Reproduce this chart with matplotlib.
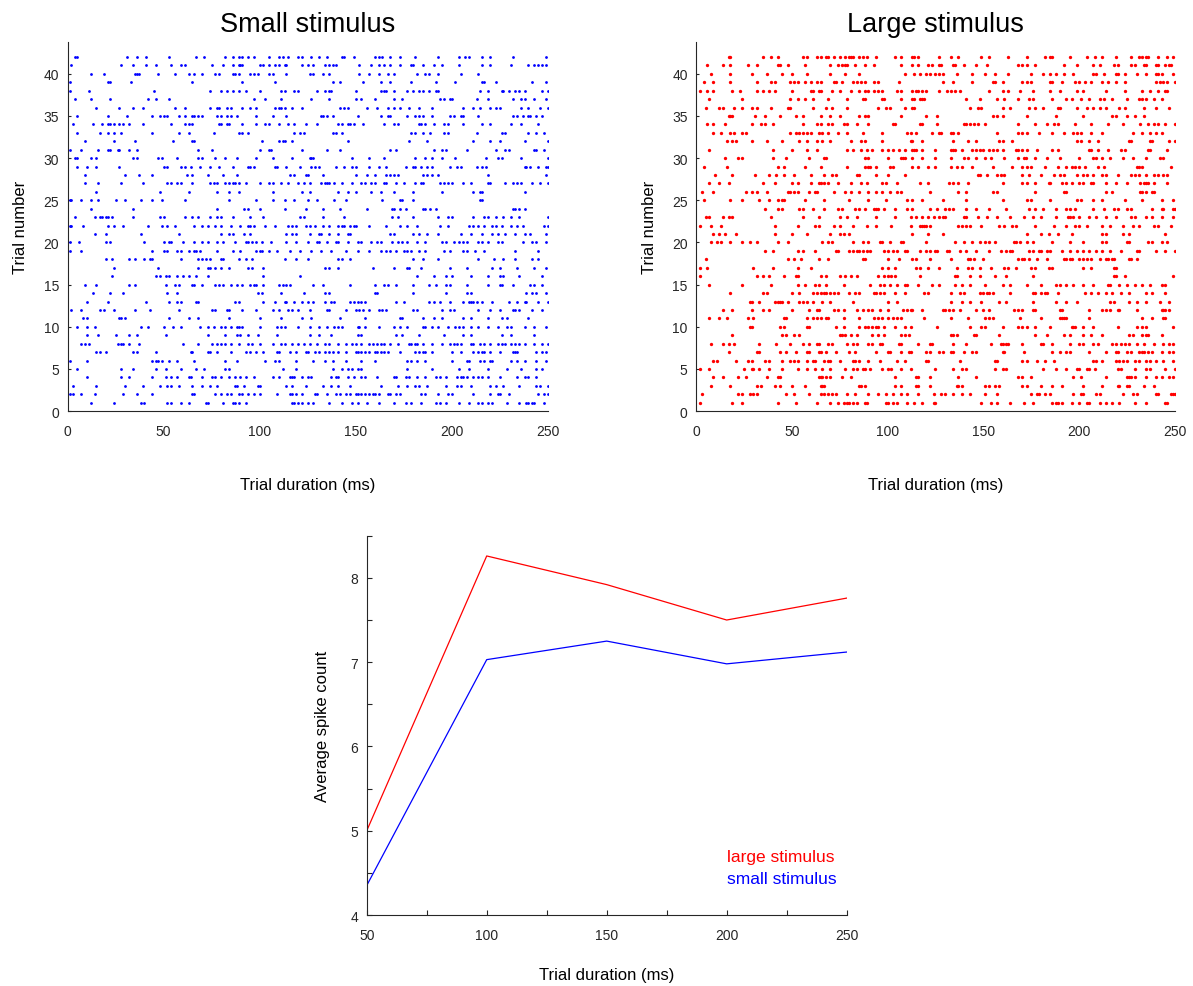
import numpy as np
import matplotlib
matplotlib.use('Agg')
from matplotlib import pyplot as plt
from matplotlib.ticker import MultipleLocator

small_spikes = [
    [4, 5, 31, 36, 41, 53, 67, 71, 82, 86, 89, 91, 94, 97, 105, 110, 112, 115, 120, 122, 127, 131, 135, 143, 144, 149, 160, 162, 164, 168, 173, 181, 193, 204, 207, 209, 216, 220, 232, 249],
    [2, 28, 34, 41, 46, 54, 59, 61, 75, 81, 86, 89, 90, 91, 100, 102, 105, 108, 110, 113, 114, 122, 125, 128, 134, 136, 138, 140, 152, 158, 162, 165, 168, 173, 179, 180, 185, 191, 195, 204, 216, 220, 231, 240, 243, 245, 247, 249],
    [12, 19, 35, 36, 37, 47, 56, 63, 66, 70, 77, 79, 86, 87, 89, 95, 97, 99, 105, 107, 114, 126, 128, 133, 136, 152, 157, 162, 167, 170, 182, 186, 188, 193, 205, 214],
    [1, 21, 22, 33, 65, 91, 108, 138, 142, 154, 163, 168, 179, 192, 202, 216, 217, 223, 242, 249],
    [1, 11, 45, 74, 80, 83, 86, 89, 93, 100, 111, 113, 118, 120, 130, 134, 136, 137, 150, 163, 165, 166, 170, 177, 180, 183, 185, 188, 192, 193, 215, 219, 226, 227, 230, 233, 235, 238, 247, 250],
    [4, 12, 22, 42, 46, 53, 97, 103, 111, 127, 136, 150, 153, 160, 170, 174, 194, 196, 199, 200, 213, 219, 232, 236, 238, 243, 249],
    [15, 27, 34, 39, 56, 61, 74, 78, 79, 83, 85, 91, 95, 98, 108, 110, 111, 113, 117, 122, 142, 144, 146, 156, 161, 167, 170, 173, 178, 183, 190, 206, 211, 215, 220, 223, 225, 236, 240, 246, 250],
    [5, 21, 31, 44, 48, 50, 52, 58, 61, 65, 66, 68, 70, 78, 80, 83, 85, 88, 98, 107, 114, 132, 133, 135, 138, 151, 163, 167, 168, 177, 181, 183, 185, 190, 199, 201, 205, 206, 214, 232, 234, 237, 240, 241, 244, 247],
    [3, 13, 18, 21, 22, 24, 27, 29, 32, 39, 54, 61, 63, 65, 79, 80, 83, 84, 91, 98, 103, 105, 110, 115, 118, 124, 130, 141, 143, 146, 147, 149, 154, 165, 170, 172, 183, 184, 186, 191, 196, 198, 206, 216, 220, 231, 236, 245],
    [5, 17, 21, 24, 28, 44, 58, 63, 76, 89, 91, 94, 118, 121, 123, 138, 140, 143, 179, 181, 185, 189, 196, 198, 213, 226, 228, 240, 244, 248],
    [9, 24, 35, 55, 65, 66, 101, 110, 112, 113, 117, 146, 178, 187, 211, 220, 225, 238, 250],
    [1, 7, 16, 21, 22, 26, 27, 32, 36, 68, 75, 100, 105, 106, 122, 135, 142, 168, 171, 191, 195, 197, 208, 223, 228, 230, 243, 244, 248],
    [4, 5, 12, 15, 34, 36, 47, 49, 57, 68, 70, 77, 82, 88, 98, 107, 117, 126, 127, 128, 148, 157, 165, 181, 186, 190, 195, 202, 218, 224, 226, 236, 250],
    [5, 10, 15, 27, 50, 52, 59, 61, 64, 69, 74, 79, 86, 94, 95, 97, 108, 109, 114, 121, 127, 129, 131, 140, 144, 148, 150, 157, 162, 166, 176, 180, 181, 184, 187, 190, 199, 203, 205, 213, 216, 218, 238, 239, 241, 245, 249, 250],
    [9, 30, 37, 44, 62, 65, 73, 81, 88, 116, 118, 124, 125, 133, 150, 156, 160, 166, 168, 170, 172, 185, 187, 190, 193, 219, 249],
    [9, 16, 28, 39, 52, 54, 57, 59, 65, 74, 76, 78, 82, 84, 86, 87, 89, 93, 100, 105, 107, 111, 115, 120, 123, 126, 132, 134, 135, 136, 139, 143, 148, 153, 155, 158, 160, 165, 166, 171, 175, 181, 184, 185, 194, 196, 198, 200, 206, 210, 219, 220, 228, 232, 234, 236, 242, 246, 250],
    [15, 48, 63, 78, 84, 89, 107, 122, 126, 141, 146, 150, 158, 163, 170, 180, 195, 211, 215, 216, 238],
    [1, 2, 7, 12, 16, 25, 30, 38, 44, 49, 61, 84, 98, 107, 113, 118, 125, 130, 139, 145, 164, 173, 174, 180, 215, 216],
    [12, 34, 78, 92, 94, 100, 113, 124, 133, 142, 156, 169, 170, 173, 176, 185, 186, 189, 192, 232, 233, 235, 238],
    [4, 14, 17, 18, 20, 21, 23, 34, 48, 50, 61, 65, 68, 74, 78, 80, 86, 95, 102, 121, 123, 133, 144, 169, 172, 180, 193, 198, 200, 211, 217, 219, 223, 227, 231, 235, 250],
    [1, 2, 8, 21, 24, 29, 42, 49, 52, 56, 66, 70, 73, 77, 80, 85, 90, 94, 95, 97, 103, 108, 115, 117, 119, 124, 126, 129, 133, 136, 141, 143, 144, 147, 149, 150, 157, 166, 173, 177, 182, 194, 198, 209, 211, 214, 217, 221, 223, 226, 231, 234, 237, 248, 250],
    [14, 20, 38, 58, 80, 84, 86, 92, 95, 114, 117, 119, 126, 131, 132, 136, 141, 146, 147, 168, 170, 180, 183, 187, 193, 205, 210, 216, 221, 224, 228, 233, 238, 241, 249],
    [1, 6, 20, 22, 40, 50, 53, 54, 60, 66, 70, 73, 78, 81, 87, 93, 94, 96, 98, 101, 106, 114, 119, 125, 130, 131, 135, 140, 141, 146, 151, 153, 158, 161, 163, 169, 172, 174, 177, 182, 186, 195, 197, 201, 204, 206, 208, 214, 216, 219, 224, 226, 237, 242, 244, 249],
    [1, 7, 44, 50, 52, 57, 59, 63, 66, 67, 69, 78, 86, 90, 98, 100, 101, 105, 109, 116, 121, 127, 132, 137, 145, 151, 157, 163, 166, 168, 171, 175, 177, 179, 183, 186, 196, 199, 206, 208, 212, 217, 233, 245],
    [20, 23, 32, 35, 40, 43, 44, 59, 68, 70, 72, 74, 80, 81, 89, 93, 96, 113, 119, 125, 141, 143, 147, 180, 185, 193, 214, 222, 227, 233, 242, 245],
    [24, 47, 68, 73, 74, 77, 80, 84, 94, 96, 102, 134, 136, 141, 159, 170, 177, 178, 184, 199, 208, 221, 225, 234, 243, 249],
    [23, 46, 48, 51, 53, 57, 60, 63, 67, 73, 102, 121, 182, 191, 197, 200, 210, 219, 225, 227, 235, 247],
    [9, 15, 32, 35, 51, 56, 58, 65, 66, 70, 77, 79, 81, 85, 88, 91, 95, 97, 98, 102, 110, 112, 114, 116, 128, 133, 147, 160, 165, 167, 171, 180, 188, 192, 197, 199, 208, 219, 225, 226, 232, 241, 243, 247],
    [13, 22, 29, 52, 57, 99, 101, 111, 123, 134, 136, 160, 161, 180, 197, 208, 210, 239, 242, 244, 249],
    [10, 21, 41, 53, 57, 59, 67, 68, 87, 89, 102, 108, 113, 114, 118, 122, 125, 128, 134, 137, 139, 147, 149, 151, 153, 155, 171, 175, 188, 191, 194, 199, 206, 209, 210, 211, 213, 216, 221, 230, 234, 238, 239, 245, 250],
    [2, 7, 17, 19, 24, 35, 43, 58, 75, 77, 83, 84, 91, 98, 107, 110, 115, 117, 120, 126, 135, 136, 145, 150, 152, 154, 157, 162, 164, 166, 180, 182, 195, 199, 201, 214, 220, 225, 232, 233, 235, 242, 247],
    [8, 10, 27, 28, 30, 53, 63, 68, 84, 100, 111, 122, 127, 142, 155, 173, 174, 185, 191, 195, 206, 210, 219, 226, 229, 240],
    [5, 10, 14, 38, 42, 50, 55, 59, 69, 73, 76, 80, 82, 85, 88, 89, 91, 100, 109, 111, 113, 120, 126, 131, 135, 139, 141, 143, 151, 152, 155, 162, 170, 173, 177, 185, 186, 190, 193, 198, 202, 204, 206, 210, 214, 219, 224, 229, 231, 238, 243, 249],
    [10, 16, 25, 32, 36, 51, 73, 82, 88, 90, 94, 99, 109, 126, 131, 137, 151, 153, 171, 174, 183, 196, 206, 210, 226, 231, 243],
    [7, 9, 11, 26, 28, 29, 32, 37, 60, 68, 75, 78, 80, 82, 85, 89, 94, 96, 100, 107, 111, 113, 117, 120, 123, 126, 130, 134, 136, 141, 145, 148, 150, 153, 157, 159, 161, 163, 165, 168, 172, 178, 179, 181, 182, 185, 190, 195, 199, 201, 203, 205, 210, 211, 215, 217, 220, 224, 226, 228, 231, 233, 235, 238, 243, 247, 250],
    [15, 17, 20, 34, 36, 46, 64, 65, 73, 74, 78, 85, 93, 95, 98, 102, 109, 110, 116, 119, 124, 125, 129, 131, 134, 136, 138, 141, 145, 150, 151, 153, 155, 157, 160, 161, 163, 165, 167, 173, 181, 183, 185, 186, 190, 200, 205, 211, 214, 216, 217, 220, 225, 232, 233, 234, 244, 247, 249],
    [1, 10, 44, 46, 47, 49, 53, 57, 66, 82, 88, 103, 108, 110, 119, 128, 134, 138, 145, 153, 160, 177, 179, 182, 186, 200, 208, 209, 215, 217, 220, 221, 231, 234, 238, 244, 249],
    [5, 28, 34, 46, 51, 59, 67, 71, 82, 84, 112, 119, 138, 143, 146, 148, 151, 153, 177, 190, 204, 209, 219, 229, 236, 244, 247],
    [10, 28, 32, 44, 51, 54, 57, 63, 64, 70, 75, 77, 80, 84, 87, 90, 93, 97, 107, 110, 116, 117, 118, 122, 125, 127, 137, 140, 141, 146, 149, 153, 155, 161, 170, 171, 176, 178, 182, 186, 192, 194, 197, 203, 205, 206, 208, 211, 214, 216, 219, 225, 234, 238, 240, 244],
    [3, 15, 30, 39, 48, 52, 54, 58, 65, 70, 74, 78, 87, 88, 92, 99, 100, 114, 117, 124, 133, 137, 141, 147, 163, 172, 177, 181, 183, 187, 197, 203, 205, 210, 220, 223, 227, 235, 244, 246, 250],
    [1, 3, 7, 14, 29, 36, 44, 65, 66, 77, 80, 83, 85, 89, 91, 94, 97, 100, 109, 116, 117, 119, 122, 129, 130, 135, 140, 142, 145, 147, 150, 151, 153, 155, 157, 159, 160, 162, 167, 168, 171, 173, 184, 186, 193, 198, 200, 211, 220, 224, 225, 230, 245, 248, 250],
    [12, 24, 38, 40, 52, 54, 59, 63, 72, 73, 81, 86, 87, 89, 93, 117, 118, 120, 122, 125, 128, 136, 143, 148, 151, 156, 162, 170, 176, 179, 184, 192, 194, 197, 204, 209, 214, 216, 219, 221, 229, 235, 239, 240, 242, 243, 248],
]

large_spikes = [
    [17, 18, 35, 39, 43, 56, 58, 63, 65, 68, 69, 72, 75, 78, 80, 81, 82, 85, 87, 89, 94, 104, 107, 113, 114, 116, 127, 133, 137, 149, 153, 163, 173, 182, 185, 186, 195, 204, 208, 212, 219, 227, 231, 233, 235, 236, 241, 246, 249],
    [6, 14, 18, 27, 32, 43, 44, 48, 57, 70, 74, 76, 78, 79, 83, 88, 93, 107, 113, 116, 121, 123, 127, 128, 134, 135, 140, 146, 152, 168, 170, 173, 177, 192, 199, 207, 211, 218, 220, 227, 229, 234, 235, 240, 241, 245, 247, 248],
    [8, 18, 29, 37, 45, 50, 58, 70, 78, 85, 109, 114, 117, 120, 122, 125, 127, 129, 136, 144, 151, 156, 163, 175, 181, 185, 188, 192, 197, 207, 209, 213, 219, 220, 224, 230, 235, 240, 241, 243, 249],
    [4, 9, 18, 32, 39, 41, 49, 51, 53, 57, 60, 63, 65, 72, 73, 76, 82, 84, 86, 88, 93, 95, 106, 129, 134, 144, 155, 156, 160, 170, 173, 175, 185, 186, 191, 198, 200, 203, 206, 212, 215, 219, 224, 240, 242, 244, 246, 250],
    [2, 6, 9, 19, 23, 32, 35, 38, 41, 50, 60, 61, 64, 65, 71, 75, 81, 85, 88, 90, 93, 95, 97, 105, 107, 113, 115, 116, 118, 120, 127, 131, 133, 135, 138, 153, 160, 163, 169, 176, 185, 190, 199, 202, 214, 224, 233, 237, 241, 245, 246],
    [7, 24, 49, 53, 57, 61, 69, 79, 87, 88, 97, 98, 107, 113, 114, 117, 118, 119, 141, 148, 157, 161, 168, 174, 176, 186, 193, 196, 201, 205, 211, 213, 217, 225, 231, 233, 235, 239, 243],
    [5, 12, 14, 20, 24, 29, 32, 39, 48, 49, 61, 68, 71, 79, 95, 99, 101, 109, 113, 114, 143, 147, 149, 160, 164, 174, 177, 181, 189, 190, 199, 204, 207, 211, 214, 221, 224, 234, 240, 247],
    [17, 18, 19, 31, 36, 44, 52, 56, 65, 70, 75, 85, 88, 90, 107, 120, 126, 155, 157, 160, 173, 188, 202, 217, 219, 225, 229, 234],
    [6, 9, 15, 29, 34, 36, 40, 56, 63, 65, 69, 71, 77, 79, 84, 90, 103, 104, 117, 118, 126, 140, 141, 143, 145, 147, 151, 168, 177, 183, 187, 189, 198, 206, 215, 223, 232, 236, 239, 241, 245, 250],
    [9, 13, 18, 20, 24, 26, 49, 52, 54, 56, 58, 60, 64, 66, 69, 74, 79, 87, 97, 110, 112, 115, 123, 127, 128, 133, 134, 137, 157, 168, 170, 173, 179, 186, 192, 197, 199, 201, 206, 212, 228, 233, 237, 240, 243],
    [16, 19, 21, 29, 37, 45, 54, 58, 63, 66, 70, 81, 86, 88, 97, 112, 113, 118, 134, 142, 146, 158, 160, 165, 199, 201, 205, 210, 226, 227, 237, 238, 247, 250],
    [7, 40, 50, 58, 63, 79, 82, 86, 89, 92, 97, 100, 103, 106, 109, 113, 114, 115, 118, 125, 133, 134, 135, 139, 144, 146, 148, 150, 153, 155, 157, 160, 167, 168, 170, 173, 178, 186, 189, 205, 206, 210, 215, 222, 224, 236, 237, 246],
    [15, 22, 24, 40, 47, 59, 67, 68, 88, 90, 100, 107, 108, 109, 113, 118, 125, 133, 140, 142, 146, 151, 154, 161, 168, 171, 172, 177, 183, 190, 200, 207, 209, 212, 216, 223, 228, 235, 242, 244],
    [4, 16, 43, 46, 57, 65, 79, 88, 90, 91, 94, 101, 103, 113, 116, 121, 125, 133, 136, 139, 144, 155, 165, 170, 173, 175, 182, 189, 193, 196, 198, 200, 203, 210, 213, 230, 231, 233, 248],
    [10, 19, 31, 38, 42, 46, 51, 60, 67, 71, 73, 84, 85, 94, 100, 109, 147, 148, 152, 157, 159, 161, 170, 174, 180, 187, 190, 192, 199, 202, 204, 207, 212, 214, 220, 227, 229, 231, 235, 239, 241, 244, 246],
    [7, 12, 17, 35, 41, 50, 53, 60, 64, 65, 67, 69, 74, 81, 86, 89, 97, 99, 105, 117, 121, 132, 134, 137, 142, 160, 170, 173, 177, 184, 185, 191, 193, 196, 200, 202, 206, 207, 214, 219, 225, 232, 234, 235, 236, 239, 246],
    [3, 9, 26, 29, 32, 37, 48, 49, 51, 53, 59, 62, 63, 72, 78, 81, 85, 90, 94, 97, 101, 105, 107, 122, 137, 141, 155, 157, 177, 192, 193, 214, 217, 232, 233, 235, 238, 239],
    [4, 18, 24, 33, 38, 43, 45, 46, 57, 67, 80, 90, 99, 110, 113, 118, 129, 141, 160, 173, 175, 185, 199, 201, 207, 212, 224, 233, 243, 249],
    [36, 43, 45, 54, 56, 61, 67, 74, 76, 83, 85, 88, 93, 94, 95, 98, 104, 110, 113, 122, 126, 130, 132, 134, 141, 146, 153, 162, 174, 177, 181, 188, 193, 195, 198, 207, 213, 218, 220, 225, 227, 238, 243, 244, 249, 250],
    [5, 7, 14, 17, 19, 39, 56, 64, 75, 79, 84, 94, 104, 112, 115, 118, 121, 124, 127, 129, 130, 140, 141, 147, 152, 157, 164, 171, 176, 180, 188, 194, 195, 197, 200, 205, 209, 214, 219, 227, 229, 235, 238, 243, 249],
    [2, 8, 13, 41, 53, 62, 64, 72, 75, 82, 89, 94, 102, 112, 117, 118, 119, 120, 122, 137, 139, 141, 143, 149, 158, 161, 165, 167, 177, 187, 193, 198, 200, 204, 212, 216, 223, 228, 231, 239, 241, 248],
    [9, 12, 15, 21, 41, 50, 58, 70, 75, 77, 80, 113, 121, 129, 173, 180, 184, 189, 196, 212, 214, 223, 226, 245],
    [8, 11, 13, 18, 24, 28, 32, 43, 48, 66, 69, 71, 82, 87, 90, 96, 97, 101, 107, 108, 120, 135, 140, 144, 148, 151, 153, 156, 166, 167, 169, 173, 176, 186, 195, 202, 212, 214, 225, 226, 236, 238, 243, 246],
    [36, 40, 53, 56, 62, 73, 74, 80, 82, 84, 85, 87, 89, 91, 98, 100, 103, 105, 109, 110, 117, 120, 122, 125, 126, 131, 132, 138, 141, 146, 153, 159, 162, 164, 165, 174, 176, 179, 180, 183, 185, 191, 195, 199, 202, 205, 209, 212, 216, 222, 230, 231, 240, 245, 250],
    [5, 48, 51, 55, 64, 69, 87, 88, 100, 106, 113, 115, 122, 133, 142, 143, 145, 150, 168, 170, 171, 174, 178, 183, 192, 193, 195, 196, 200, 202, 204, 206, 211, 214, 215, 217, 218, 226, 227, 230],
    [2, 6, 30, 40, 53, 60, 97, 100, 104, 115, 117, 121, 127, 136, 142, 144, 148, 154, 161, 163, 167, 175, 177, 184, 186, 202, 206, 218, 219],
    [2, 32, 35, 38, 46, 52, 53, 65, 68, 75, 78, 81, 84, 95, 98, 100, 102, 104, 117, 135, 136, 143, 148, 156, 162, 176, 218, 219, 224, 249],
    [7, 24, 39, 53, 57, 62, 64, 68, 77, 91, 96, 98, 101, 105, 109, 110, 116, 123, 127, 135, 139, 143, 151, 160, 164, 173, 180, 188, 190, 193, 197, 202, 207, 215, 216, 221, 225, 229, 233, 237, 243, 245],
    [18, 35, 37, 50, 54, 61, 63, 65, 67, 68, 70, 72, 74, 80, 83, 85, 93, 94, 96, 98, 104, 109, 119, 121, 133, 138, 140, 148, 150, 152, 153, 155, 164, 176, 177, 180, 182, 183, 189, 203, 206, 210, 214, 217, 222, 226, 235, 238, 245],
    [28, 29, 33, 41, 43, 44, 45, 48, 54, 56, 58, 61, 66, 70, 82, 100, 105, 133, 139, 143, 149, 158, 162, 176, 188, 193, 199, 216, 218, 226, 230, 235, 242, 247],
    [14, 19, 29, 35, 38, 50, 59, 63, 64, 72, 74, 77, 84, 87, 90, 92, 96, 100, 108, 110, 112, 113, 118, 129, 130, 132, 134, 138, 146, 150, 153, 166, 168, 170, 176, 177, 190, 191, 205, 212, 214, 216, 220, 221, 230, 243, 244, 245, 247],
    [7, 12, 16, 27, 30, 46, 47, 58, 61, 63, 65, 68, 69, 77, 85, 93, 95, 97, 100, 103, 105, 107, 119, 133, 142, 151, 153, 155, 169, 180, 190, 191, 192, 193, 205, 233, 238, 244, 245],
    [28, 29, 44, 46, 58, 59, 73, 77, 85, 88, 90, 92, 94, 95, 98, 104, 109, 112, 126, 143, 149, 151, 160, 168, 170, 173, 177, 185, 196, 197, 198, 202, 207, 220, 230, 233, 235, 249],
    [19, 45, 47, 51, 54, 75, 76, 78, 81, 84, 92, 95, 98, 107, 109, 111, 133, 134, 136, 145, 146, 158, 177, 183, 192, 195, 202, 206, 212, 226, 228, 233, 235, 236, 243],
    [8, 14, 17, 20, 33, 42, 49, 56, 59, 63, 64, 69, 71, 79, 82, 84, 90, 92, 96, 97, 106, 107, 116, 122, 123, 134, 141, 154, 159, 160, 162, 163, 170, 180, 181, 186, 195, 200, 202, 207, 210, 217, 219, 222, 224, 226, 230, 234, 239, 244, 247, 249],
    [17, 32, 33, 44, 47, 52, 58, 59, 64, 65, 68, 73, 80, 83, 94, 100, 101, 107, 111, 112, 120, 122, 127, 129, 133, 134, 140, 144, 146, 160, 161, 171, 186, 190, 193, 195, 205, 214, 219, 220, 225, 227, 231, 233, 234, 236, 238, 243, 247, 249],
    [9, 11, 21, 27, 29, 36, 38, 45, 49, 51, 53, 58, 61, 62, 67, 69, 70, 75, 82, 83, 85, 90, 96, 105, 109, 120, 121, 138, 156, 157, 170, 173, 178, 182, 187, 207, 209, 212, 219, 221, 223, 225, 229, 231, 235, 237, 240, 244, 249],
    [2, 7, 25, 29, 30, 33, 38, 45, 53, 58, 62, 66, 70, 78, 82, 84, 87, 88, 91, 97, 100, 102, 107, 112, 125, 134, 139, 141, 156, 160, 162, 181, 188, 193, 199, 200, 204, 205, 208, 220, 222, 229, 235, 237, 245, 250],
    [9, 14, 22, 26, 37, 43, 44, 64, 65, 66, 68, 70, 76, 81, 104, 115, 116, 122, 137, 146, 168, 170, 175, 197, 201, 214, 225, 226, 227, 229, 235, 240, 243, 247, 249],
    [8, 18, 32, 34, 41, 44, 50, 57, 65, 66, 67, 85, 86, 88, 104, 107, 115, 116, 122, 136, 137, 139, 151, 153, 156, 158, 170, 173, 180, 186, 191, 202, 212, 220, 221, 225, 226, 234, 239],
    [3, 22, 24, 28, 30, 32, 47, 51, 59, 65, 67, 69, 71, 73, 79, 83, 90, 95, 99, 103, 107, 110, 116, 124, 128, 130, 134, 139, 143, 151, 157, 175, 178, 179, 182, 185, 197, 201, 202, 209, 211, 223, 228, 230, 240, 241, 248, 249, 250],
    [2, 19, 24, 43, 52, 63, 70, 74, 77, 79, 80, 82, 84, 88, 89, 99, 100, 103, 105, 110, 114, 118, 124, 125, 149, 154, 157, 164, 171, 176, 186, 188, 189, 191, 196, 200, 204, 205, 211, 214, 217, 221, 229, 235, 245, 246],
]

durations = [50, 100, 150, 200, 250]
large_counts = [5.0, 8.26, 7.92, 7.5, 7.76]
small_counts = [4.35, 7.03, 7.25, 6.98, 7.12]

AX_COLOR = '#262626'

plt.rcParams['font.family'] = ['Liberation Sans', 'DejaVu Sans']
plt.rcParams['axes.edgecolor'] = AX_COLOR
plt.rcParams['xtick.color'] = AX_COLOR
plt.rcParams['ytick.color'] = AX_COLOR
plt.rcParams['axes.linewidth'] = 0.8
plt.rcParams['axes.spines.right'] = False
plt.rcParams['axes.spines.top'] = False


def raster(ax, spikes, color, msize, title):
    n = len(spikes)
    for i, times in enumerate(spikes):
        trial = n - i
        ax.plot(times, [trial] * len(times), linestyle='none', marker='o',
                markersize=msize, markeredgewidth=0, color=color)
    ax.set_xlim(0, 250)
    ax.set_ylim(0, 43.75)
    ax.set_xticks(np.arange(0, 251, 50))
    ax.set_yticks(np.arange(0, 41, 5))
    ax.tick_params(axis='x', length=0, labelsize=10, pad=9)
    ax.tick_params(axis='y', direction='in', length=2.2, width=0.8, labelsize=10, pad=6)
    ax.set_xlabel('Trial duration (ms)', fontsize=12, labelpad=28)
    ax.set_ylabel('Trial number', fontsize=12, labelpad=11)
    ax.set_title(title, fontsize=19.5, pad=8)


fig = plt.figure(figsize=(11.93, 9.87), dpi=100)

ax1 = fig.add_axes([0.0567, 0.5824, 0.4023, 0.3739])
raster(ax1, small_spikes, 'blue', 2.0, 'Small stimulus')

ax2 = fig.add_axes([0.5834, 0.5824, 0.4015, 0.3739])
raster(ax2, large_spikes, 'red', 2.4, 'Large stimulus')

ax3 = fig.add_axes([0.3074, 0.0719, 0.4023, 0.3843])
ax3.plot(durations, large_counts, color='red', linewidth=0.9)
ax3.plot(durations, small_counts, color='blue', linewidth=0.9)
ax3.set_xlim(50, 250)
ax3.set_ylim(4, 8.5)
ax3.xaxis.set_major_locator(MultipleLocator(50))
ax3.xaxis.set_minor_locator(MultipleLocator(25))
ax3.yaxis.set_major_locator(MultipleLocator(1))
ax3.yaxis.set_minor_locator(MultipleLocator(0.5))
ax3.tick_params(which='both', direction='in', length=3.6, width=0.8)
ax3.tick_params(labelsize=10)
ax3.tick_params(axis='x', pad=9)
ax3.tick_params(axis='y', pad=6)
ax3.set_xlabel('Trial duration (ms)', fontsize=12, labelpad=18)
ax3.set_ylabel('Average spike count', fontsize=12, labelpad=15)
fig.canvas.draw()
ax3.get_xticklabels()[0].set_horizontalalignment('left')
ax3.text(200.2, 4.69, 'large stimulus', color='red', fontsize=12.5, va='center')
ax3.text(200.2, 4.43, 'small stimulus', color='blue', fontsize=12.5, va='center')

fig.savefig('out.png', dpi=100)
